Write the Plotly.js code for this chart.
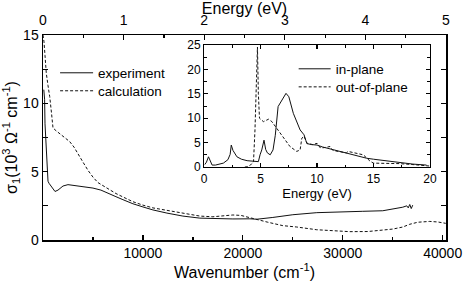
<!DOCTYPE html>
<html>
<head>
<meta charset="utf-8">
<script src="https://cdn.plot.ly/plotly-3.0.1.min.js"></script>
<style>html,body{margin:0;padding:0;background:#fff;}#chart{width:463px;height:288px;}</style>
</head>
<body>
<div id="chart"></div>
<script>
// Main panel: optical conductivity vs wavenumber
const expWavenumber = [80, 120, 160, 200, 300, 420, 500, 600, 800, 1000, 1200, 1500, 2000, 2500, 3000, 4000, 5000, 5800, 6500, 7300, 8000, 9000, 10000, 11000, 12400, 14000, 15700, 17000, 19000, 20700, 21400, 23000, 25000, 27400, 30000, 32000, 34000, 35400, 36000, 36400, 36550, 36700, 36850, 37000];
const expSigma = [11.0, 10.8, 10.3, 8.5, 7.0, 5.2, 4.3, 4.15, 3.95, 3.75, 3.55, 3.65, 3.95, 4.05, 4.0, 3.9, 3.8, 3.65, 3.45, 3.17, 2.95, 2.65, 2.42, 2.2, 1.97, 1.75, 1.6, 1.57, 1.54, 1.55, 1.52, 1.65, 1.85, 2.0, 2.08, 2.1, 2.14, 2.3, 2.4, 2.5, 2.35, 2.6, 2.3, 2.55];

const calcWavenumber = [0, 100, 200, 330, 500, 670, 850, 1000, 1300, 1670, 2200, 2670, 3100, 3500, 4000, 4500, 5000, 5500, 6500, 7300, 8000, 9000, 10000, 11000, 12400, 14000, 15700, 17000, 18000, 19000, 19800, 20700, 21400, 22500, 24000, 25400, 27400, 29000, 30700, 32500, 34000, 35000, 36000, 36700, 37500, 38700, 39500, 40300];
const calcSigma = [15.0, 14.5, 13.5, 12.2, 11.3, 10.5, 9.3, 8.2, 8.0, 7.8, 7.5, 7.2, 6.8, 6.35, 5.7, 5.1, 4.6, 4.2, 3.75, 3.4, 3.15, 2.8, 2.55, 2.35, 2.17, 1.95, 1.75, 1.7, 1.75, 1.83, 1.8, 1.62, 1.5, 1.3, 1.05, 0.95, 0.75, 0.66, 0.61, 0.62, 0.7, 0.8, 0.95, 1.15, 1.3, 1.36, 1.32, 1.22];

// Inset: calculated conductivity vs energy
const inPlaneEnergy = [0.05, 0.2, 0.38, 0.55, 0.7, 1.0, 1.7, 2.1, 2.3, 2.4, 2.55, 2.9, 3.3, 3.8, 4.3, 4.8, 4.95, 5.1, 5.3, 5.45, 5.6, 5.85, 6.1, 6.3, 6.55, 6.8, 7.0, 7.25, 7.5, 7.9, 8.5, 8.7, 8.85, 9.0, 9.1, 9.5, 10.0, 10.5, 11.0, 11.4, 12.0, 12.9, 13.5, 14.4, 15.0, 16.0, 17.3, 18.5, 19.7];
const inPlaneSigma = [0.5, 1.0, 2.1, 1.2, 0.4, 0.4, 0.8, 1.5, 2.6, 4.5, 3.4, 2.1, 1.6, 1.3, 1.15, 1.1, 2.5, 3.5, 5.5, 3.6, 2.9, 2.5, 3.5, 6.5, 12.4, 13.4, 14.1, 15.1, 14.4, 11.0, 7.6, 7.0, 6.6, 5.5, 4.8, 4.6, 4.5, 4.1, 3.8, 3.6, 3.2, 2.6, 2.3, 1.8, 1.6, 1.3, 0.9, 0.6, 0.4];

const outPlaneEnergy = [3.6, 3.8, 4.1, 4.37, 4.5, 4.6, 4.72, 4.8, 4.9, 5.25, 5.7, 6.0, 6.7, 7.2, 7.6, 8.2, 8.5, 8.65, 8.85, 9.1, 9.6, 10.0, 10.3, 10.7, 11.15, 11.4, 12.0, 12.6, 12.75, 13.5, 14.1, 14.7, 15.0, 16.0, 17.3, 18.5, 20.0];
const outPlaneSigma = [0.0, 0.05, 0.4, 1.1, 7.6, 15.0, 24.6, 15.0, 10.0, 9.3, 9.8, 9.3, 7.0, 5.5, 4.2, 3.2, 3.5, 5.9, 6.3, 4.9, 4.6, 4.85, 3.9, 4.0, 4.2, 3.4, 3.1, 2.9, 3.2, 2.8, 2.5, 1.2, 0.8, 0.75, 0.7, 0.5, 0.2];

const mainXTicks = [0, 10000, 20000, 30000, 40000];
const mainXTickText = ['', '10000', '20000', '30000', '40000'];
const mainXMinor = [5000, 15000, 25000, 35000];

const lineStyle = {color: '#111', width: 1};
const dashStyle = {color: '#111', width: 1, dash: '3px,2px'};

const traces = [
  {x: expWavenumber, y: expSigma, name: 'experiment', mode: 'lines', line: lineStyle, xaxis: 'x', yaxis: 'y', legend: 'legend'},
  {x: calcWavenumber, y: calcSigma, name: 'calculation', mode: 'lines', line: dashStyle, xaxis: 'x', yaxis: 'y', legend: 'legend3'},
  {x: inPlaneEnergy, y: inPlaneSigma, name: 'in-plane', mode: 'lines', line: lineStyle, xaxis: 'x3', yaxis: 'y3', legend: 'legend2'},
  {x: outPlaneEnergy, y: outPlaneSigma, name: 'out-of-plane', mode: 'lines', line: dashStyle, xaxis: 'x3', yaxis: 'y3', legend: 'legend4'},
  // invisible trace to activate top energy axis
  {x: [0, 5], y: [0, 0], mode: 'lines', line: {width: 0}, xaxis: 'x2', yaxis: 'y', showlegend: false, hoverinfo: 'skip'}
];

const axisCommon = {showgrid: false, zeroline: false, showline: true, linecolor: '#000', linewidth: 1.5, ticks: 'inside', tickcolor: '#000', tickwidth: 1.2};

function legendAt(x, y, w) {
  return {x: x, y: y, xanchor: 'left', yanchor: 'middle', bgcolor: 'rgba(0,0,0,0)', borderwidth: 0, font: {size: 13.5}, tracegroupgap: 0, itemwidth: w};
}

const layout = {
  width: 463, height: 288,
  margin: {l: 43, r: 17, t: 35, b: 48, pad: 0},
  paper_bgcolor: '#fff', plot_bgcolor: '#fff',
  font: {family: '"Liberation Sans", Arial, sans-serif', size: 14, color: '#000'},
  showlegend: true,
  xaxis: Object.assign({}, axisCommon, {
    range: [0, 40328], tickmode: 'array', tickvals: mainXTicks, ticktext: mainXTickText, ticklen: 5,
    minor: {tickmode: 'array', tickvals: mainXMinor, ticks: 'inside', ticklen: 3, tickcolor: '#000', tickwidth: 1.2},
    title: {text: 'Wavenumber (cm<sup>-1</sup>)', font: {size: 16}, standoff: 4},
    tickfont: {size: 14}
  }),
  xaxis2: Object.assign({}, axisCommon, {
    overlaying: 'x', side: 'top', anchor: 'y', range: [0, 5], dtick: 1, tick0: 0, ticklen: 5,
    ticklabelstandoff: 3,
    minor: {dtick: 0.5, ticks: 'inside', ticklen: 3, tickcolor: '#000', tickwidth: 1.2},
    title: {text: 'Energy (eV)', font: {size: 16}, standoff: 1},
    tickfont: {size: 14}
  }),
  yaxis: Object.assign({}, axisCommon, {
    range: [0, 15], dtick: 5, tick0: 0, ticklen: 5, mirror: 'allticks',
    minor: {dtick: 2.5, ticks: 'inside', ticklen: 3, tickcolor: '#000', tickwidth: 1.2},
    title: {text: 'σ<sub>1</sub>(10<sup>3</sup> Ω<sup>-1</sup> cm<sup>-1</sup>)', font: {size: 16}, standoff: 5},
    tickfont: {size: 14}
  }),
  xaxis3: Object.assign({}, axisCommon, {
    domain: [0.4, 0.96], anchor: 'y3', range: [0, 20], dtick: 5, tick0: 0, ticklen: 4, mirror: 'allticks', linewidth: 1.2,
    minor: {dtick: 2.5, ticks: 'inside', ticklen: 2.5, tickcolor: '#000', tickwidth: 1},
    title: {text: 'Energy (eV)', font: {size: 13}, standoff: 2},
    tickfont: {size: 12}
  }),
  yaxis3: Object.assign({}, axisCommon, {
    domain: [0.356, 0.951], anchor: 'x3', range: [0, 25], dtick: 5, tick0: 0, ticklen: 4, mirror: 'allticks', linewidth: 1.2,
    minor: {dtick: 2.5, ticks: 'inside', ticklen: 2.5, tickcolor: '#000', tickwidth: 1},
    tickfont: {size: 12}
  }),
  legend: legendAt(0.03, 0.8146, 33),
  legend3: legendAt(0.03, 0.7268, 33),
  legend2: legendAt(0.622, 0.834, 32),
  legend4: legendAt(0.622, 0.746, 32)
};

Plotly.newPlot('chart', traces, layout, {displayModeBar: false, staticPlot: true});
</script>
</body>
</html>
